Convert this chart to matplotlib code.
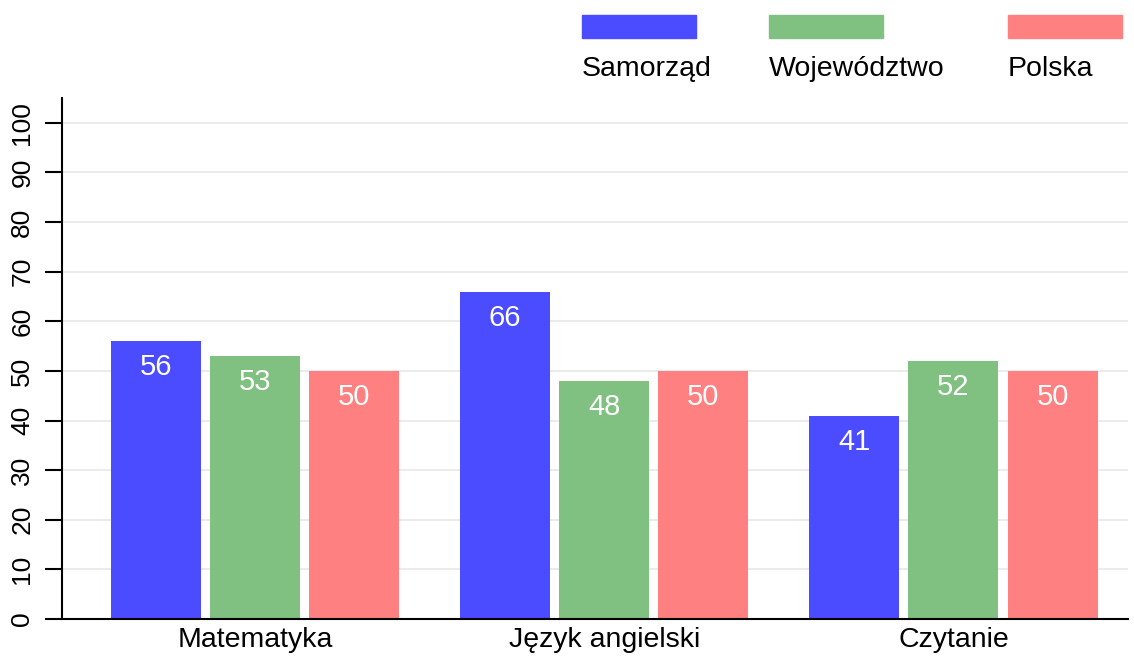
import matplotlib.pyplot as plt
from matplotlib.patches import Rectangle

plt.rcParams['font.family'] = ['Liberation Sans', 'DejaVu Sans']

categories = ['Matematyka', 'Język angielski', 'Czytanie']
series_names = ['Samorząd', 'Województwo', 'Polska']
samorzad = [56, 66, 41]
wojewodztwo = [53, 48, 52]
polska = [50, 50, 50]
colors = ['#4b4bff', '#80c080', '#ff8080']

fig = plt.figure(figsize=(11.34, 6.57), dpi=100)
ax = fig.add_axes([0.0547, 0.0578, 0.94, 0.793])

step = 0.284
width = 0.258
x = list(range(len(categories)))
for i, (vals, col) in enumerate(zip([samorzad, wojewodztwo, polska], colors)):
    pos = [xi + (i - 1) * step for xi in x]
    bars = ax.bar(pos, vals, width=width, color=col, zorder=2)
    for b, v in zip(bars, vals):
        ax.annotate(str(v), (b.get_x() + b.get_width() / 2, v),
                    xytext=(0, -26), textcoords='offset pixels',
                    ha='center', va='center', color='white', fontsize=21)

ax.set_xlim(-0.553, 2.5)
ax.set_ylim(0, 105)
ax.set_yticks(range(0, 101, 10))
ax.set_xticks(x)
ax.set_xticklabels(categories, fontsize=20.5)
ax.tick_params(axis='x', length=0, pad=6)
ax.tick_params(axis='y', length=12, width=1.5, labelsize=19, labelrotation=90, pad=8)
for lbl in ax.get_yticklabels():
    lbl.set_va('center')
ax.grid(axis='y', color='#e8e8e8', linewidth=1.2, zorder=0)
ax.set_axisbelow(True)
for s in ['top', 'right']:
    ax.spines[s].set_visible(False)
ax.spines['left'].set_linewidth(1.5)
ax.spines['bottom'].set_linewidth(1.5)

# legend: swatches with labels underneath
W, H = 1134, 657
leg_x = [582, 769, 1008]
for lx, name, col in zip(leg_x, series_names, colors):
    fig.patches.append(Rectangle((lx / W, 1 - 38 / H), 114 / W, 23 / H,
                                 transform=fig.transFigure, color=col))
    fig.text(lx / W, 1 - 69 / H, name, fontsize=20.5, va='center', ha='left')

fig.savefig('out.png', dpi=100)
